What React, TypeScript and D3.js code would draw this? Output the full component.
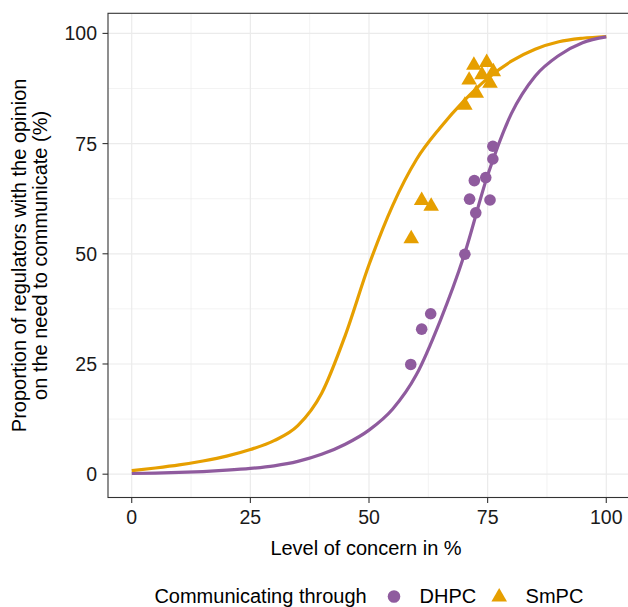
import * as d3 from "d3";

// fitted curves, every 5 points of concern
const curveX = [0, 5, 10, 15, 20, 25, 30, 35, 40, 45, 50, 55, 60, 65, 70, 75, 80, 85, 90, 95, 100];
const smpcCurve = [0.8, 1.4, 2.1, 3.0, 4.1, 5.6, 7.6, 11.0, 18.3, 31.5, 47.5, 61, 71.4, 78.6, 84.7, 89.8, 93.7, 96.4, 98.1, 98.9, 99.3];
const dhpcCurve = [0.15, 0.25, 0.4, 0.6, 0.9, 1.3, 1.9, 2.9, 4.5, 6.8, 10, 14.8, 22.6, 34.8, 49.5, 67.8, 81.8, 90.3, 95, 97.9, 99.2];

// observed points
const dhpcX = [58.8, 61.1, 63.0, 70.2, 72.5, 71.2, 75.5, 72.2, 74.6, 76.1, 76.1];
const dhpcY = [24.9, 32.9, 36.4, 49.9, 59.3, 62.4, 62.2, 66.6, 67.3, 71.5, 74.4];
const smpcX = [58.9, 61.1, 63.1, 70.2, 72.6, 71.1, 75.5, 73.8, 76.2, 72.1, 74.8];
const smpcY = [53.4, 62.1, 60.8, 83.7, 86.4, 89.4, 88.7, 90.6, 91.3, 92.8, 93.4];

const majorTicks = [0, 25, 50, 75, 100];
const minorTicks = [12.5, 37.5, 62.5, 87.5];

const PURPLE = "#8F5B9E";
const ORANGE = "#E69F00";
const FONT = "'Liberation Sans', Arial, Helvetica, sans-serif";

const W = 628;
const H = 607;
const panel = { left: 108, top: 13.3, right: 630, bottom: 497.5 };

export default function App() {
  const x = d3.scaleLinear().domain([-5, 105]).range([panel.left, panel.right]);
  const y = d3.scaleLinear().domain([-5.29, 104.56]).range([panel.bottom, panel.top]);

  const line = d3
    .line<number>()
    .x((_, i) => x(curveX[i]))
    .y((d) => y(d))
    .curve(d3.curveMonotoneX);

  const tri = d3.symbol().type(d3.symbolTriangle).size(105)();

  return (
    <svg
      width={W}
      height={H}
      style={{ position: "absolute", left: 0, top: 0, background: "#fff" }}
      fontFamily={FONT}
    >
      <rect width={W} height={H} fill="#fff" />

      {/* grid */}
      {minorTicks.map((t) => (
        <g key={"m" + t} stroke="#EBEBEB" strokeWidth={0.6}>
          <line x1={x(t)} x2={x(t)} y1={panel.top} y2={panel.bottom} />
          <line x1={panel.left} x2={panel.right} y1={y(t)} y2={y(t)} />
        </g>
      ))}
      {majorTicks.map((t) => (
        <g key={"M" + t} stroke="#EBEBEB" strokeWidth={1.2}>
          <line x1={x(t)} x2={x(t)} y1={panel.top} y2={panel.bottom} />
          <line x1={panel.left} x2={panel.right} y1={y(t)} y2={y(t)} />
        </g>
      ))}

      {/* curves */}
      <path d={line(smpcCurve) ?? ""} fill="none" stroke={ORANGE} strokeWidth={3.2} />
      <path d={line(dhpcCurve) ?? ""} fill="none" stroke={PURPLE} strokeWidth={3.2} />

      {/* points */}
      {dhpcX.map((v, i) => (
        <circle key={"d" + i} cx={x(v)} cy={y(dhpcY[i])} r={5.8} fill={PURPLE} />
      ))}
      {smpcX.map((v, i) => (
        <path key={"s" + i} d={tri ?? ""} transform={`translate(${x(v)},${y(smpcY[i])})`} fill={ORANGE} />
      ))}

      {/* panel border */}
      <rect
        x={panel.left}
        y={panel.top}
        width={panel.right - panel.left}
        height={panel.bottom - panel.top}
        fill="none"
        stroke="#333"
        strokeWidth={1.1}
      />

      {/* axes ticks + labels */}
      {majorTicks.map((t) => (
        <g key={"xt" + t}>
          <line x1={x(t)} x2={x(t)} y1={panel.bottom} y2={panel.bottom + 5.5} stroke="#333" strokeWidth={1.1} />
          <text x={x(t)} y={524} textAnchor="middle" fontSize={19.5} fill="#1a1a1a">
            {t}
          </text>
        </g>
      ))}
      {majorTicks.map((t) => (
        <g key={"yt" + t}>
          <line x1={panel.left - 5.5} x2={panel.left} y1={y(t)} y2={y(t)} stroke="#333" strokeWidth={1.1} />
          <text x={97} y={y(t)} dy="0.36em" textAnchor="end" fontSize={19.5} fill="#1a1a1a">
            {t}
          </text>
        </g>
      ))}

      {/* axis titles */}
      <text x={366} y={554.7} textAnchor="middle" fontSize={20} fill="#000">
        Level of concern in %
      </text>
      <text
        transform={`translate(26,${(panel.top + panel.bottom) / 2}) rotate(-90)`}
        textAnchor="middle"
        fontSize={20}
        fill="#000"
      >
        <tspan x={0} y={0}>Proportion of regulators with the opinion</tspan>
        <tspan x={0} y={20.7}>on the need to communicate (%)</tspan>
      </text>

      {/* legend */}
      <text x={154.4} y={602.5} fontSize={20} fill="#000">
        Communicating through
      </text>
      <circle cx={394} cy={596.5} r={6.3} fill={PURPLE} />
      <text x={419.5} y={602.5} fontSize={20} fill="#000">
        DHPC
      </text>
      <path d={tri ?? ""} transform="translate(499.2,597)" fill={ORANGE} />
      <text x={525.6} y={602.5} fontSize={20} fill="#000">
        SmPC
      </text>
    </svg>
  );
}
